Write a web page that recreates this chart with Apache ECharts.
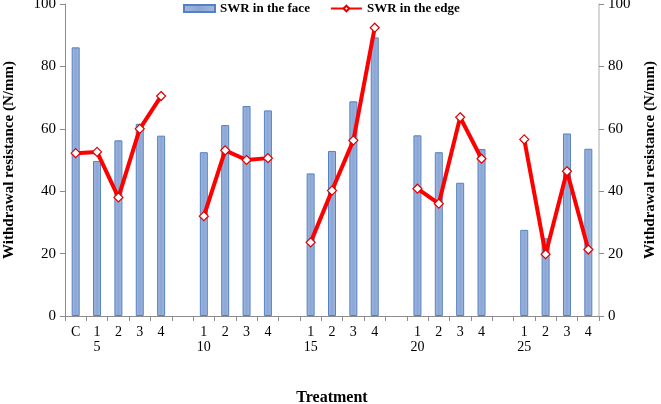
<!DOCTYPE html>
<html>
<head>
<meta charset="utf-8">
<script src="https://cdn.jsdelivr.net/npm/echarts@6/dist/echarts.min.js"></script>
<style>html,body{margin:0;padding:0;background:#fff}#c{width:661px;height:404px}</style>
</head>
<body>
<div id="c"></div>
<script>
// Categories (empty strings are gaps between groups)
var categories = ['C','1','2','3','4','','1','2','3','4','','1','2','3','4','','1','2','3','4','','1','2','3','4'];
// Group label shown under the first item of each group, keyed by category index
var groupLabels = {1:'5', 6:'10', 11:'15', 16:'20', 21:'25'};
var yTicks = [0,20,40,60,80,100];
var faceValues = [86.1, 49.7, 56.3, 61.6, 57.8, null, 52.5, 61.2, 67.3, 65.9, null, 45.7, 52.9, 68.8, 89.3, null, 57.9, 52.5, 42.7, 53.5, null, 27.6, 24.9, 58.5, 53.6];
var edgeValues = [52.2, 52.6, 38.0, 60.0, 70.5, null, 32.0, 53.1, 50.0, 50.6, null, 23.6, 40.2, 56.3, 92.4, null, 40.8, 36.0, 63.7, 50.4, null, 56.6, 19.8, 46.4, 21.3];

var serif = "'Liberation Serif','Times New Roman',serif";
var chart = echarts.init(document.getElementById('c'));
chart.setOption({
  animation: false,
  textStyle: {fontFamily: serif},
  grid: {left: 65, right: 62, top: 4, bottom: 88, containLabel: false, outerBoundsMode: 'none'},
  legend: {
    left: 183, top: 2, padding: 0, itemGap: 20, itemWidth: 31, itemHeight: 7,
    textStyle: {fontFamily: serif, fontWeight: 'bold', fontSize: 13, color: '#000'},
    data: [
      {name: 'SWR in the face', icon: 'rect'},
      {name: 'SWR in the edge'}
    ]
  },
  xAxis: {
    type: 'category',
    data: categories,
    name: 'Treatment',
    nameLocation: 'middle',
    nameGap: 74,
    nameTextStyle: {fontFamily: serif, fontWeight: 'bold', fontSize: 16, color: '#000'},
    axisLine: {lineStyle: {color: '#8c8c8c', width: 1}},
    axisTick: {show: true, interval: 0, length: 5, lineStyle: {color: '#8c8c8c'}},
    axisLabel: {
      interval: 0, margin: 9, color: '#000', fontSize: 14, fontFamily: serif, lineHeight: 15,
      formatter: function (v, i) { return groupLabels[i] ? v + '\n' + groupLabels[i] : v; }
    }
  },
  yAxis: [
    {
      type: 'value', min: 0, max: 100, interval: 20,
      name: 'Withdrawal resistance (N/mm)', nameLocation: 'middle', nameGap: 48, nameRotate: 90,
      nameTextStyle: {fontFamily: serif, fontWeight: 'bold', fontSize: 15, color: '#000'},
      axisLine: {show: true, lineStyle: {color: '#8c8c8c'}},
      axisTick: {show: true, length: 5, lineStyle: {color: '#8c8c8c'}},
      splitLine: {show: false},
      axisLabel: {color: '#000', fontSize: 15, fontFamily: serif, margin: 9}
    },
    {
      type: 'value', min: 0, max: 100, interval: 20, position: 'right',
      name: 'Withdrawal resistance (N/mm)', nameLocation: 'middle', nameGap: 44, nameRotate: 90,
      nameTextStyle: {fontFamily: serif, fontWeight: 'bold', fontSize: 15, color: '#000'},
      axisLine: {show: true, lineStyle: {color: '#c8c8c8', width: 1.5}},
      axisTick: {show: true, length: 5, lineStyle: {color: '#8c8c8c'}},
      splitLine: {show: false},
      axisLabel: {color: '#000', fontSize: 15, fontFamily: serif, margin: 9}
    }
  ],
  series: [
    {
      name: 'SWR in the face', type: 'bar', data: faceValues, barWidth: 8,
      itemStyle: {
        color: new echarts.graphic.LinearGradient(0, 0, 1, 0, [
          {offset: 0, color: '#a3bae0'}, {offset: 0.5, color: '#8ba6d5'}, {offset: 1, color: '#a3bae0'}
        ]),
        borderColor: '#5581c2', borderWidth: 1
      }
    },
    {
      name: 'SWR in the edge', type: 'line', data: edgeValues, yAxisIndex: 0,
      connectNulls: false,
      symbol: 'diamond', symbolSize: 9,
      lineStyle: {color: '#ff0000', width: 4},
      itemStyle: {color: '#ffffff', borderColor: '#e00000', borderWidth: 1.2}
    }
  ]
});
</script>
</body>
</html>
